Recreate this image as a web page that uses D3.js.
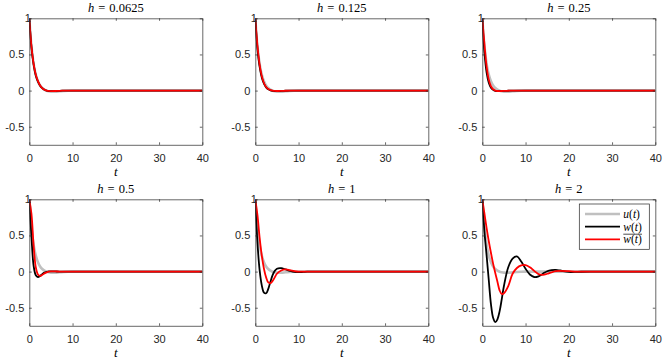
<!DOCTYPE html>
<html>
<head>
<meta charset="utf-8">
<script src="https://cdn.jsdelivr.net/npm/d3@7"></script>
<style>
  body { margin: 0; background: #fff; }
  svg { display: block; }
  .num { font-family: 'Liberation Sans', Arial, Helvetica, sans-serif; font-weight: normal; }
  .tex { font-family: 'Liberation Serif', 'Times New Roman', Times, serif; font-weight: normal; }
</style>
</head>
<body>
<div id="chart"></div>
<script>
// time grid shared by all curves
var T = [0, 0.5, 1, 1.5, 2, 2.5, 3, 3.5, 4, 4.5, 5, 6, 7, 8, 9, 10, 11, 12, 13, 14, 15, 16, 17, 18, 20, 22, 25, 30, 40];

// exact solution u(t), same in every panel
var u = [1, 0.61, 0.37, 0.22, 0.13, 0.07, 0.035, 0.012, -0.003, -0.01, -0.014, -0.015, -0.01, -0.005, -0.002, 0, 0, 0, 0, 0, 0, 0, 0, 0, 0, 0, 0, 0, 0];

var hLabels = ['0.0625', '0.125', '0.25', '0.5', '1', '2'];

// w(t) for each step size
var w0625 = [1, 0.60, 0.36, 0.21, 0.125, 0.068, 0.033, 0.012, 0, -0.006, -0.008, -0.006, -0.003, -0.001, 0, 0, 0, 0, 0, 0, 0, 0, 0, 0, 0, 0, 0, 0, 0];
var w125  = [1, 0.58, 0.33, 0.18, 0.095, 0.045, 0.018, 0.004, -0.003, -0.006, -0.007, -0.005, -0.002, 0, 0, 0, 0, 0, 0, 0, 0, 0, 0, 0, 0, 0, 0, 0, 0];
var w25   = [1, 0.52, 0.25, 0.11, 0.04, 0.01, -0.004, -0.008, -0.008, -0.006, -0.004, -0.002, 0, 0, 0, 0, 0, 0, 0, 0, 0, 0, 0, 0, 0, 0, 0, 0, 0];
var w05   = [1, 0.48, 0.08, -0.05, -0.075, -0.06, -0.035, -0.015, -0.003, 0.003, 0.004, 0.002, 0, 0, 0, 0, 0, 0, 0, 0, 0, 0, 0, 0, 0, 0, 0, 0, 0];
var w1    = [1, 0.40, 0.02, -0.19, -0.29, -0.30, -0.24, -0.14, -0.05, 0.01, 0.04, 0.047, 0.03, 0.01, -0.005, -0.008, -0.005, 0, 0, 0, 0, 0, 0, 0, 0, 0, 0, 0, 0];
var w2    = [1, 0.55, 0.22, -0.12, -0.45, -0.64, -0.70, -0.66, -0.55, -0.38, -0.20, 0.06, 0.18, 0.21, 0.14, 0.04, -0.04, -0.075, -0.065, -0.03, 0.005, 0.02, 0.023, 0.015, -0.005, -0.003, 0, 0, 0];

// averaged w-bar(t) for each step size
var wb0625 = [1, 0.61, 0.37, 0.22, 0.13, 0.07, 0.035, 0.013, 0.001, -0.005, -0.007, -0.006, -0.003, -0.001, 0, 0, 0, 0, 0, 0, 0, 0, 0, 0, 0, 0, 0, 0, 0];
var wb125  = [1, 0.62, 0.36, 0.20, 0.105, 0.05, 0.022, 0.007, -0.001, -0.005, -0.006, -0.005, -0.002, 0, 0, 0, 0, 0, 0, 0, 0, 0, 0, 0, 0, 0, 0, 0, 0];
var wb25   = [1, 0.64, 0.33, 0.15, 0.06, 0.018, 0, -0.006, -0.007, -0.006, -0.004, -0.002, 0, 0, 0, 0, 0, 0, 0, 0, 0, 0, 0, 0, 0, 0, 0, 0, 0];
var wb05   = [1, 0.80, 0.36, 0.06, -0.04, -0.06, -0.045, -0.025, -0.01, 0, 0.003, 0.002, 0, 0, 0, 0, 0, 0, 0, 0, 0, 0, 0, 0, 0, 0, 0, 0, 0];
var wb1    = [1, 0.78, 0.47, 0.22, 0.04, -0.08, -0.15, -0.16, -0.13, -0.08, -0.03, 0.015, 0.03, 0.02, 0.008, 0, 0, 0, 0, 0, 0, 0, 0, 0, 0, 0, 0, 0, 0];
var wb2    = [1, 0.80, 0.60, 0.42, 0.26, 0.11, -0.02, -0.14, -0.26, -0.31, -0.30, -0.20, -0.03, 0.05, 0.085, 0.09, 0.06, 0.01, -0.035, -0.045, -0.03, -0.01, 0.005, 0.01, 0.005, 0, 0, 0, 0];

var xTicks = [0, 10, 20, 30, 40];
var yTicks = [-0.5, 0, 0.5, 1];

var wAll  = [w0625, w125, w25, w05, w1, w2];
var wbAll = [wb0625, wb125, wb25, wb05, wb1, wb2];

var chart_width = 663;
var chart_height = 361;
var colX = [29.3, 255.3, 482.3];
var rowY = [18.3, 199.3];
var pw = 173;
var ph = 126.5;
var axisColor = '#262626';

var svg = d3.select('#chart')
    .append('svg')
    .attr('width', chart_width)
    .attr('height', chart_height);

var x = d3.scaleLinear().domain([0, 40]).range([0, pw]);
var y = d3.scaleLinear().domain([-0.75, 1]).range([ph, 0]);

var line = d3.line()
    .x(function(d){ return x(d[0]); })
    .y(function(d){ return y(d[1]); })
    .curve(d3.curveCatmullRom.alpha(0.5));

svg.append('defs').append('clipPath')
    .attr('id', 'clip')
    .append('rect')
    .attr('width', pw)
    .attr('height', ph);

hLabels.forEach(function(h, i){
    var g = svg.append('g')
        .attr('transform', 'translate(' + colX[i % 3] + ',' + rowY[Math.floor(i / 3)] + ')');

    // curves
    var lines = g.append('g').attr('clip-path', 'url(#clip)');
    var series = [
        { v: u, color: '#c0c0c0', w: 2.6 },
        { v: wAll[i], color: '#000000', w: 1.8 },
        { v: wbAll[i], color: '#ff0000', w: 1.8 }
    ];
    series.forEach(function(s){
        lines.append('path')
            .datum(T.map(function(t, k){ return [t, s.v[k]]; }))
            .attr('d', line)
            .attr('fill', 'none')
            .attr('stroke', s.color)
            .attr('stroke-width', s.w)
            .attr('stroke-linejoin', 'round');
    });

    // axes with inward ticks on all four sides
    g.append('g')
        .attr('transform', 'translate(0,' + ph + ')')
        .call(d3.axisBottom(x).tickValues(xTicks).tickSizeInner(-2.5).tickSizeOuter(0).tickPadding(9));
    var left = g.append('g')
        .call(d3.axisLeft(y).tickValues(yTicks).tickSizeInner(-2.5).tickSizeOuter(0).tickPadding(5)
            .tickFormat(function(d){ return d; }));
    g.append('g')
        .call(d3.axisTop(x).tickValues(xTicks).tickSizeInner(-2.5).tickSizeOuter(0).tickFormat(''));
    g.append('g')
        .attr('transform', 'translate(' + pw + ',0)')
        .call(d3.axisRight(y).tickValues(yTicks).tickSizeInner(-2.5).tickSizeOuter(0).tickFormat(''));

    g.selectAll('g').attr('font-family', null);
    g.selectAll('.domain, .tick line')
        .attr('stroke', axisColor)
        .attr('stroke-width', 0.7);
    g.selectAll('.tick text')
        .attr('class', 'num')
        .attr('fill', axisColor)
        .attr('font-size', 11);
    // the "1" label sits against the axis in the reference
    left.selectAll('.tick text')
        .filter(function(d){ return d === 1; })
        .attr('x', 1.5);

    // title
    var title = g.append('text')
        .attr('class', 'tex')
        .attr('x', pw / 2)
        .attr('y', -6.5)
        .attr('text-anchor', 'middle')
        .attr('font-size', 12.5)
        .attr('fill', '#000');
    title.append('tspan').attr('font-style', 'italic').text('h');
    title.append('tspan').attr('dx', 4).text('=');
    title.append('tspan').attr('dx', 4).text(h);

    // x label
    g.append('text')
        .attr('class', 'tex')
        .attr('x', pw / 2)
        .attr('y', ph + 31.5)
        .attr('text-anchor', 'middle')
        .attr('font-style', 'italic')
        .attr('font-size', 13)
        .attr('fill', '#000')
        .text('t');

    // legend in last panel
    if (i === 5) {
        var lg = g.append('g').attr('transform', 'translate(' + (579.3 - colX[2]) + ',' + (204 - rowY[1]) + ')');
        lg.append('rect')
            .attr('width', 70)
            .attr('height', 45.3)
            .attr('fill', '#fff')
            .attr('stroke', axisColor)
            .attr('stroke-width', 0.7);
        var entries = [
            { name: 'u', color: '#c0c0c0', w: 2.6, bar: false },
            { name: 'w', color: '#000000', w: 1.8, bar: false },
            { name: 'w', color: '#ff0000', w: 1.8, bar: true }
        ];
        entries.forEach(function(e, k){
            var ly = 10 + k * 12.7;
            lg.append('line')
                .attr('x1', 5.7).attr('x2', 40.7)
                .attr('y1', ly).attr('y2', ly)
                .attr('stroke', e.color)
                .attr('stroke-width', e.w);
            var t = lg.append('text')
                .attr('class', 'tex')
                .attr('x', 44)
                .attr('y', ly + 3.8)
                .attr('font-size', 11.5)
                .attr('fill', '#000');
            t.append('tspan').attr('font-style', 'italic').text(e.name);
            t.append('tspan').text('(');
            t.append('tspan').attr('font-style', 'italic').text('t');
            t.append('tspan').text(')');
            if (e.bar) {
                var bb = t.node().getBBox();
                lg.append('line')
                    .attr('x1', bb.x).attr('x2', bb.x + bb.width)
                    .attr('y1', ly - 5.2).attr('y2', ly - 5.2)
                    .attr('stroke', '#000')
                    .attr('stroke-width', 0.7);
            }
        });
    }
});
</script>
</body>
</html>
